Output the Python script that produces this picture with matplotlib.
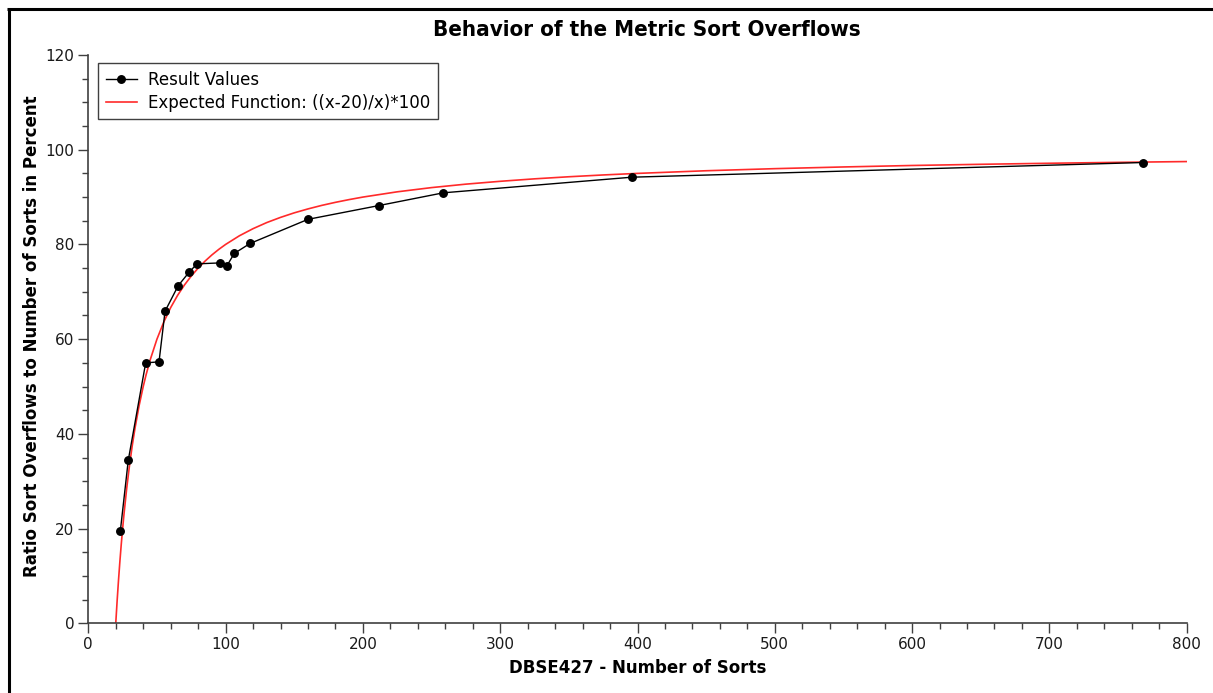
import matplotlib
matplotlib.use("Agg")
import matplotlib.pyplot as plt
from matplotlib.lines import Line2D
from matplotlib.ticker import MultipleLocator

# Data
sorts = [23.3, 29.1, 41.8, 51.5, 55.9, 65.5, 73.6, 79.2, 96.1, 100.8, 106.3,
         117.8, 160.0, 211.5, 258.6, 396.0, 768.4]
ratio = [19.4, 34.4, 55.0, 55.2, 65.9, 71.3, 74.2, 75.9, 76.1, 75.4, 78.1,
         80.2, 85.3, 88.2, 90.9, 94.2, 97.3]

# Expected function ((x-20)/x)*100 sampled values
exp_x = [20, 21, 22, 23, 24, 25, 26, 28, 30, 32, 34, 37, 40, 42, 45, 50, 55,
         60, 65, 70, 75, 80, 85, 90, 95, 100, 110, 120, 130, 140, 150, 160,
         170, 180, 190, 200, 225, 250, 275, 300, 325, 350, 375, 400, 450, 500,
         550, 600, 650, 700, 750, 800]
exp_y = [0.0, 4.76, 9.09, 13.04, 16.67, 20.0, 23.08, 28.57, 33.33, 37.5, 41.18,
         45.95, 50.0, 52.38, 55.56, 60.0, 63.64, 66.67, 69.23, 71.43, 73.33,
         75.0, 76.47, 77.78, 78.95, 80.0, 81.82, 83.33, 84.62, 85.71, 86.67,
         87.5, 88.24, 88.89, 89.47, 90.0, 91.11, 92.0, 92.73, 93.33, 93.85,
         94.29, 94.67, 95.0, 95.56, 96.0, 96.36, 96.67, 96.92, 97.14, 97.33,
         97.5]

title = "Behavior of the Metric Sort Overflows"
xlabel = "DBSE427 - Number of Sorts"
ylabel = "Ratio Sort Overflows to Number of Sorts in Percent"
legend_labels = ["Result Values", "Expected Function: ((x-20)/x)*100"]

W, H = 1213, 693
fig = plt.figure(figsize=(W / 100, H / 100), dpi=100)
ax = fig.add_axes([88.3 / W, 1 - 623.3 / H, (1186.7 - 88.3) / W, (623.3 - 55) / H])

ax.plot(exp_x, exp_y, color="#ff2a2a", lw=1.2, label=legend_labels[1], zorder=2)
ax.plot(sorts, ratio, color="black", lw=1.0, marker="o", markersize=5.4,
        label=legend_labels[0], zorder=3)

ax.set_xlim(0, 800)
ax.set_ylim(0, 120)
ax.xaxis.set_major_locator(MultipleLocator(100))
ax.xaxis.set_minor_locator(MultipleLocator(20))
ax.yaxis.set_major_locator(MultipleLocator(20))
ax.yaxis.set_minor_locator(MultipleLocator(5))

for s in ["top", "right"]:
    ax.spines[s].set_visible(False)
for s in ["left", "bottom"]:
    ax.spines[s].set_color("#404040")
    ax.spines[s].set_linewidth(1.2)

ax.tick_params(axis="both", which="major", length=7, width=1, color="#404040",
               labelsize=11, labelcolor="#1a1a1a", pad=3)
ax.tick_params(axis="both", which="minor", length=4.5, width=1, color="#404040")

h, l = ax.get_legend_handles_labels()
leg = ax.legend(h[::-1], l[::-1], loc="upper left",
                bbox_to_anchor=((98 - 88.3) / 1098.4, (623.3 - 63.3) / 568.3),
                borderaxespad=0, fontsize=12, frameon=True, fancybox=False,
                framealpha=1, edgecolor="#404040", borderpad=0.45,
                handlelength=1.9, labelspacing=0.3, handletextpad=0.65)
leg.get_frame().set_linewidth(1.0)

fig.text(647 / W, 1 - 30 / H, title, ha="center", va="center",
         fontsize=16, fontweight="bold", fontstretch="condensed")
fig.text(638 / W, 1 - 668 / H, xlabel, ha="center", va="center",
         fontsize=12, fontweight="bold")
fig.text(32 / W, 1 - 336.5 / H, ylabel, ha="center", va="center",
         rotation=90, fontsize=12, fontweight="bold")

# Figure frame (top and left edges)
fig.add_artist(Line2D([7.3 / W, 1.0], [1 - 9.3 / H, 1 - 9.3 / H],
                      transform=fig.transFigure, color="black", lw=2.2,
                      solid_capstyle="butt"))
fig.add_artist(Line2D([8.6 / W, 8.6 / W], [0.0, 1 - 8.0 / H],
                      transform=fig.transFigure, color="black", lw=2.2,
                      solid_capstyle="butt"))

fig.savefig("out.png", dpi=100)
